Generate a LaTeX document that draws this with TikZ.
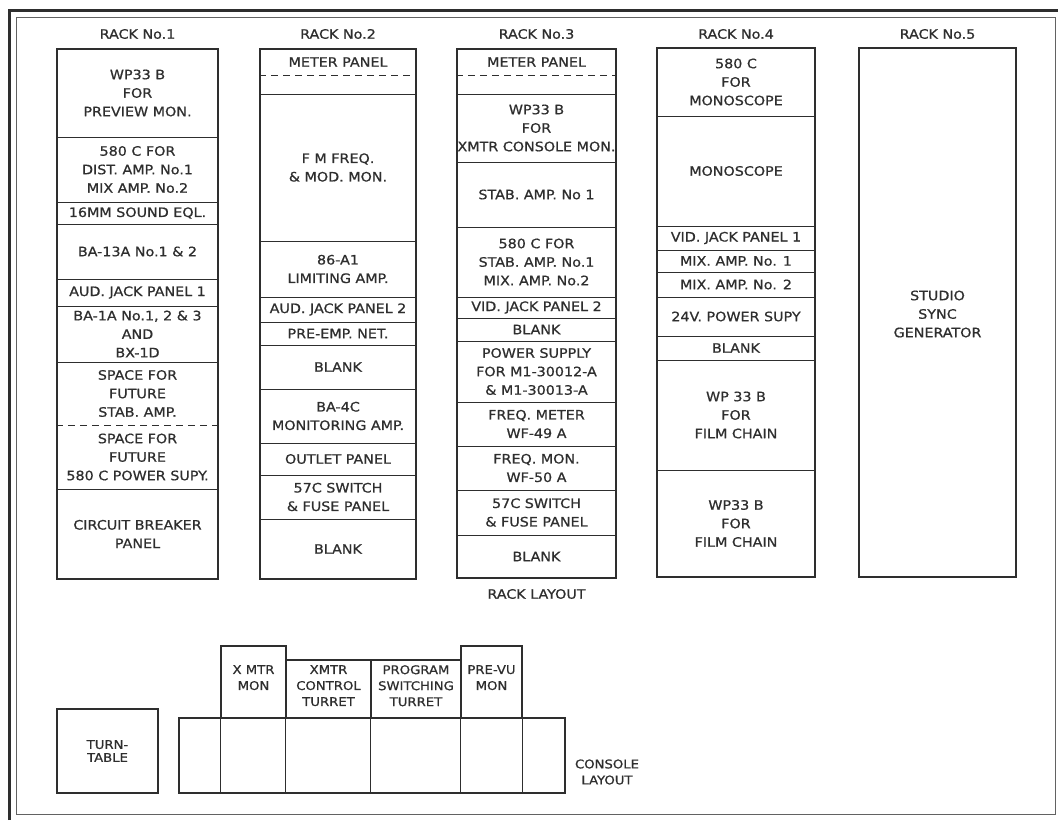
\documentclass[tikz,border=0pt]{standalone}
\usepackage{fontspec}
\newfontfamily\lettering{DejaVu Sans}[FakeStretch=1.1, FakeBold=0.8]
\definecolor{ink}{HTML}{2E2E2E}
\tikzset{
  lbl/.style={font=\lettering\fontsize{13}{18.5}\selectfont, align=center, inner sep=0pt, text=ink},
  clbl/.style={font=\lettering\fontsize{12}{16}\selectfont, align=center, inner sep=0pt, text=ink},
  rackframe/.style={draw=ink, line width=1.1pt, inner sep=0pt},
  sepline/.style={draw=ink, line width=0.9pt},
  dsep/.style={draw=ink, line width=0.9pt, dash pattern=on 7pt off 5pt},
}
\newcommand\rackbox[5]{\node[rackframe, minimum width={(#3-#2)*1pt}, minimum height={(#5-#4)*1pt}] (#1) at ({(#2+#3)/2},{(#4+#5)/2}) {};}
\newcommand\celltext[5]{\node[lbl] (#1) at (#2,{(#3+#4)/2}) {#5};}
\newcommand\hsep[3][sepline]{\draw[#1] (#2.west |- 0,#3) -- (#2.east |- 0,#3);}
\begin{document}
\begin{tikzpicture}[x=1pt,y=-1pt]
\useasboundingbox (0,0) rectangle (1058,820);
% frame
\draw[line width=3pt, ink] (9,820) -- (9,10) -- (1058,10);
\draw[line width=0.8pt, ink!75] (16,17) rectangle (1055,814);

% rack labels
\node[lbl] (h1) at (137.5,34) {RACK No.1};
\node[lbl] (h2) at (338,34) {RACK No.2};
\node[lbl] (h3) at (536.5,34) {RACK No.3};
\node[lbl] (h4) at (736,34) {RACK No.4};
\node[lbl] (h5) at (937.5,34) {RACK No.5};

% ---------- rack 1
\rackbox{r1}{57}{218}{49}{579}
\foreach \y in {137,202,224,279,306,362,489} {\hsep{r1}{\y}}
\hsep[dsep]{r1}{425}
\celltext{r1a}{137.5}{49}{137}{WP33 B\\FOR\\PREVIEW MON.}
\celltext{r1b}{137.5}{137}{202}{580 C FOR\\DIST. AMP. No.1\\MIX AMP. No.2}
\celltext{r1c}{137.5}{202}{224}{16MM SOUND EQL.}
\celltext{r1d}{137.5}{224}{279}{BA-13A No.1 \& 2}
\celltext{r1e}{137.5}{279}{306}{AUD. JACK PANEL 1}
\celltext{r1f}{137.5}{306}{362}{BA-1A No.1, 2 \& 3\\AND\\BX-1D}
\celltext{r1g}{137.5}{362}{425}{SPACE FOR\\FUTURE\\STAB. AMP.}
\celltext{r1h}{137.5}{425}{489}{SPACE FOR\\FUTURE\\580 C POWER SUPY.}
\celltext{r1i}{137.5}{489}{579}{CIRCUIT BREAKER\\PANEL}

% ---------- rack 2
\rackbox{r2}{260}{416}{49}{579}
\hsep[dsep]{r2}{75}
\foreach \y in {94,241,297,322,345,389,443,475,519} {\hsep{r2}{\y}}
\celltext{r2a}{338}{49}{75}{METER PANEL}
\celltext{r2b}{338}{94}{241}{F M FREQ.\\\& MOD. MON.}
\celltext{r2c}{338}{241}{297}{86-A1\\LIMITING AMP.}
\celltext{r2d}{338}{297}{322}{AUD. JACK PANEL 2}
\celltext{r2e}{338}{322}{345}{PRE-EMP. NET.}
\celltext{r2f}{338}{345}{389}{BLANK}
\celltext{r2g}{338}{389}{443}{BA-4C\\MONITORING AMP.}
\celltext{r2h}{338}{443}{475}{OUTLET PANEL}
\celltext{r2i}{338}{475}{519}{57C SWITCH\\\& FUSE PANEL}
\celltext{r2j}{338}{519}{579}{BLANK}

% ---------- rack 3
\rackbox{r3}{457}{616}{49}{578}
\hsep[dsep]{r3}{75}
\foreach \y in {94,162,227,297,318,341,402,446,490,535} {\hsep{r3}{\y}}
\celltext{r3a}{536.5}{49}{75}{METER PANEL}
\celltext{r3b}{536.5}{94}{162}{WP33 B\\FOR\\XMTR CONSOLE MON.}
\celltext{r3c}{536.5}{162}{227}{STAB. AMP. No 1}
\celltext{r3d}{536.5}{227}{297}{580 C FOR\\STAB. AMP. No.1\\MIX. AMP. No.2}
\celltext{r3e}{536.5}{297}{318}{VID. JACK PANEL 2}
\celltext{r3f}{536.5}{318}{341}{BLANK}
\celltext{r3g}{536.5}{341}{402}{POWER SUPPLY\\FOR M1-30012-A\\\& M1-30013-A}
\celltext{r3h}{536.5}{402}{446}{FREQ. METER\\WF-49 A}
\celltext{r3i}{536.5}{446}{490}{FREQ. MON.\\WF-50 A}
\celltext{r3j}{536.5}{490}{535}{57C SWITCH\\\& FUSE PANEL}
\celltext{r3k}{536.5}{535}{578}{BLANK}
\node[lbl] (racklayout) at (536.5,594) {RACK LAYOUT};

% ---------- rack 4
\rackbox{r4}{657}{815}{48}{577}
\foreach \y in {116,226,250,272,297,336,360,470} {\hsep{r4}{\y}}
\celltext{r4a}{736}{48}{116}{580 C\\FOR\\MONOSCOPE}
\celltext{r4b}{736}{116}{226}{MONOSCOPE}
\celltext{r4c}{736}{226}{250}{VID. JACK PANEL 1}
\celltext{r4d}{736}{250}{272}{MIX. AMP. No. 1}
\celltext{r4e}{736}{272}{297}{MIX. AMP. No. 2}
\celltext{r4f}{736}{297}{336}{24V. POWER SUPY}
\celltext{r4g}{736}{336}{360}{BLANK}
\celltext{r4h}{736}{360}{470}{WP 33 B\\FOR\\FILM CHAIN}
\celltext{r4i}{736}{470}{577}{WP33 B\\FOR\\FILM CHAIN}

% ---------- rack 5
\rackbox{r5}{859}{1016}{48}{577}
\node[lbl] (r5a) at (937.5,314) {STUDIO\\SYNC\\GENERATOR};

% ---------- console
\node[rackframe, minimum width=101pt, minimum height=84pt, clbl, font=\lettering\fontsize{12}{13}\selectfont] (tt) at (107.5,751) {TURN-\\TABLE};
\rackbox{cbase}{179}{565}{718}{793}
\rackbox{xmon}{221}{286}{646}{718}
\rackbox{xctl}{286}{371}{660}{718}
\rackbox{pgm}{371}{461}{660}{718}
\rackbox{pvu}{461}{522}{646}{718}
\foreach \n in {xmon,xctl,pgm,pvu} {
  \draw[sepline] (\n.south west) -- (\n.south west |- cbase.south);
}
\draw[sepline] (pvu.south east) -- (pvu.south east |- cbase.south);
\node[clbl, anchor=north] (t1) at (253.5,665) {X MTR\\MON};
\node[clbl, anchor=north] (t2) at (328.5,665) {XMTR\\CONTROL\\TURRET};
\node[clbl, anchor=north] (t3) at (416,665) {PROGRAM\\SWITCHING\\TURRET};
\node[clbl, anchor=north] (t4) at (491.5,665) {PRE-VU\\MON};
\node[clbl] (cl) at (607,772) {CONSOLE\\LAYOUT};
\end{tikzpicture}
\end{document}
